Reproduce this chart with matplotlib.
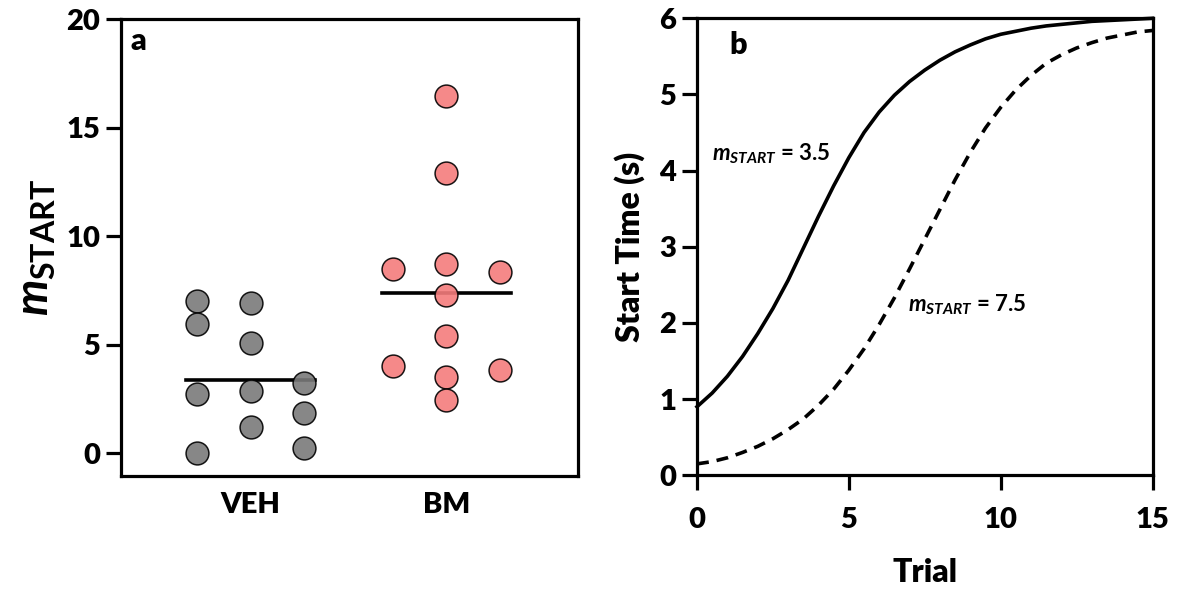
import numpy as np
import matplotlib
matplotlib.use("Agg")
import matplotlib.pyplot as plt

plt.rcParams['font.family'] = ['Lato', 'DejaVu Sans']
plt.rcParams['font.weight'] = 'heavy'
plt.rcParams['axes.labelweight'] = 'heavy'
plt.rcParams['mathtext.fontset'] = 'custom'
plt.rcParams['mathtext.it'] = 'Lato:italic:bold'
plt.rcParams['mathtext.rm'] = 'Lato:bold'
plt.rcParams['mathtext.bf'] = 'Lato:bold'

# panel a: m_START per animal
groups = ['VEH', 'BM']
veh = [7.0, 5.95, 2.75, 0.0, 6.9, 5.06, 2.86, 1.22, 3.25, 1.87, 0.26]
bm = [8.5, 4.01, 16.46, 12.89, 8.7, 7.28, 5.41, 3.52, 2.45, 8.35, 3.86]
# column each dot sits in (-1 left, 0 middle, 1 right)
veh_col = [-1, -1, -1, -1, 0, 0, 0, 0, 1, 1, 1]
bm_col = [-1, -1, 0, 0, 0, 0, 0, 0, 0, 1, 1]

# panel b: start time curves
trial = [0, 0.5, 1, 1.5, 2, 2.5, 3, 3.5, 4, 4.5, 5, 5.5, 6, 6.5, 7, 7.5,
         8, 8.5, 9, 9.5, 10, 10.5, 11, 11.5, 12, 12.5, 13, 13.5, 14, 14.5, 15]
start_35 = [0.90, 1.08, 1.30, 1.56, 1.86, 2.19, 2.56, 2.98, 3.40, 3.80, 4.17,
            4.50, 4.77, 4.99, 5.17, 5.32, 5.45, 5.56, 5.65, 5.73, 5.79, 5.83,
            5.87, 5.90, 5.92, 5.94, 5.96, 5.97, 5.98, 5.99, 6.00]
start_75 = [0.15, 0.18, 0.23, 0.30, 0.38, 0.48, 0.60, 0.74, 0.92, 1.13, 1.38,
            1.66, 1.98, 2.33, 2.71, 3.10, 3.49, 3.88, 4.24, 4.56, 4.83, 5.06,
            5.25, 5.41, 5.52, 5.61, 5.68, 5.74, 5.78, 5.82, 5.84]

W, H = 1177, 592
fig = plt.figure(figsize=(W / 100, H / 100), dpi=100)
axa = fig.add_axes([121 / W, 1 - 475.7 / H, 457 / W, 456.7 / H])
axb = fig.add_axes([697 / W, 1 - 475.3 / H, 455.5 / W, 457 / H])

lw = 2.3
for ax in (axa, axb):
    for s in ax.spines.values():
        s.set_linewidth(lw)
    ax.tick_params(width=lw, length=11, labelsize=21, pad=4)

# --- panel a
step = 0.274
for i, (vals, cols, face) in enumerate([(veh, veh_col, '#7a7a7a'),
                                        (bm, bm_col, '#f47c7c')]):
    x = [i + c * step for c in cols]
    axa.plot([i - 0.33, i + 0.33], [np.mean(vals)] * 2, color='black',
             lw=2.6, zorder=2)
    axa.scatter(x, vals, s=270, facecolor=face, edgecolor='black',
                linewidth=1.1, alpha=0.9, zorder=3)

axa.set_xlim(-0.664, 1.674)
axa.set_ylim(-1.03, 20)
axa.set_yticks([0, 5, 10, 15, 20])
axa.set_xticks([0, 1])
axa.set_xticklabels(groups)
axa.tick_params(axis='x', length=0, pad=12)
axa.set_ylabel(r'$m_{\mathrm{START}}$', fontsize=33, labelpad=6)
axa.text(0.02, 0.932, 'a', transform=axa.transAxes, fontsize=22,
         va='baseline')

# --- panel b
axb.plot(trial, start_35, color='black', lw=2.6, clip_on=False, zorder=3)
axb.plot(trial, start_75, color='black', lw=2.6, dashes=(3.3, 2.2),
         clip_on=False, zorder=3)
axb.set_xlim(0, 15)
axb.set_ylim(0, 6)
axb.set_xticks([0, 5, 10, 15])
axb.set_yticks([0, 1, 2, 3, 4, 5, 6])
axb.tick_params(axis='x', pad=12)
axb.set_xlabel('Trial', fontsize=23, labelpad=18)
axb.set_ylabel('Start Time (s)', fontsize=23, labelpad=10)
axb.text(0.072, 0.922, 'b', transform=axb.transAxes, fontsize=22,
         va='baseline')
axb.text(0.48, 4.14, r'$m_{START}$ = 3.5', fontsize=16, fontweight='bold',
         va='baseline')
axb.text(6.96, 2.15, r'$m_{START}$ = 7.5', fontsize=16, fontweight='bold',
         va='baseline')

fig.savefig('out.png', dpi=100)
